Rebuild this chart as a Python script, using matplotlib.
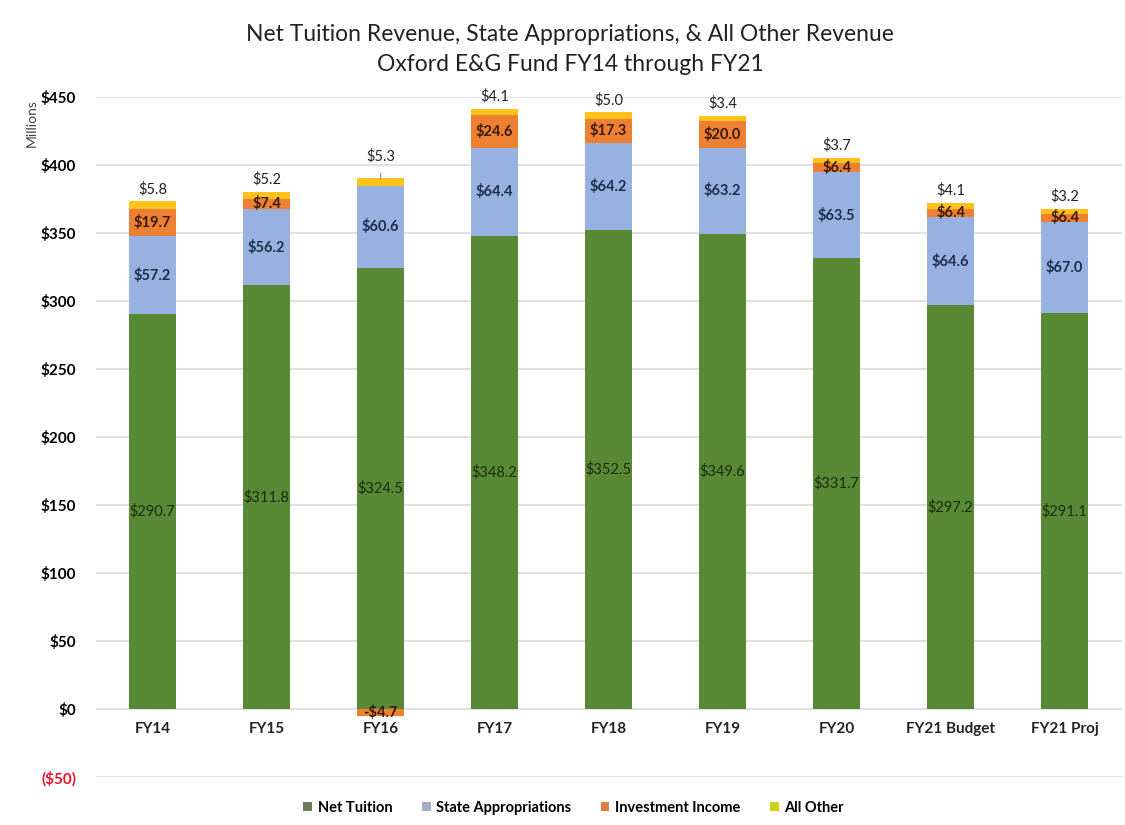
import numpy as np
import matplotlib.pyplot as plt
from matplotlib.patches import Patch
from matplotlib.ticker import FixedLocator

years = ["FY14", "FY15", "FY16", "FY17", "FY18", "FY19", "FY20", "FY21 Budget", "FY21 Proj"]
net_tuition = [290.7, 311.8, 324.5, 348.2, 352.5, 349.6, 331.7, 297.2, 291.1]
state_approp = [57.2, 56.2, 60.6, 64.4, 64.2, 63.2, 63.5, 64.6, 67.0]
investment = [19.7, 7.4, -4.7, 24.6, 17.3, 20.0, 6.4, 6.4, 6.4]
all_other = [5.8, 5.2, 5.3, 4.1, 5.0, 3.4, 3.7, 4.1, 3.2]

series = [
    ("Net Tuition", net_tuition, "#588a35", "#6b7a5a"),
    ("State Appropriations", state_approp, "#97b2e0", "#a3aec8"),
    ("Investment Income", investment, "#ee8034", "#e07b45"),
    ("All Other", all_other, "#ffc21a", "#c8d61a"),
]

plt.rcParams["font.family"] = ["Lato", "DejaVu Sans"]

fig = plt.figure(figsize=(11.25, 8.25), dpi=100)
ax = fig.add_axes([0.085, 0.058, 0.912, 0.824])

x = np.arange(len(years))
width = 0.41
pos_base = np.zeros(len(years))
neg_base = np.zeros(len(years))

for name, vals, color, _ in series:
    vals = np.array(vals)
    bottoms = np.where(vals >= 0, pos_base, neg_base)
    ax.bar(x, vals, width, bottom=bottoms, color=color, zorder=3)
    for i, v in enumerate(vals):
        txt = f"${v:.1f}" if v >= 0 else f"-${-v:.1f}"
        if name == "All Other":
            # a leader line where the label had to be pushed up
            lift = 16 if neg_base[i] < 0 else 9
            ax.annotate(txt, (x[i], bottoms[i] + v), xytext=(0, lift),
                        textcoords="offset points", ha="center", va="center",
                        fontsize=10.5, color="#222222",
                        arrowprops=dict(arrowstyle="-", color="#888888", lw=0.8,
                                        shrinkA=5, shrinkB=0) if lift > 9 else None)
        elif name == "Net Tuition":
            ax.text(x[i], bottoms[i] + v / 2, txt, ha="center", va="center",
                    fontsize=10.5, color="#1d2a12", zorder=4)
        else:
            ax.text(x[i], bottoms[i] + v / 2, txt, ha="center", va="center",
                    fontsize=10.5, fontweight="bold",
                    color="#1f2d4d" if name == "State Appropriations" else "#3a1a08",
                    zorder=4)
    pos_base = pos_base + np.where(vals >= 0, vals, 0)
    neg_base = neg_base + np.where(vals < 0, vals, 0)

ax.set_ylim(-50, 450)
ax.set_xlim(-0.5, len(years) - 0.5)
ticks = list(range(-50, 451, 50))
ax.yaxis.set_major_locator(FixedLocator(ticks))
ax.set_yticklabels(["($50)" if t < 0 else f"${t}" for t in ticks],
                   fontsize=11, fontweight="bold")
ax.get_yticklabels()[0].set_color("#e8102a")
ax.tick_params(axis="y", length=0, pad=14)
ax.tick_params(axis="x", length=0, labelbottom=False)
ax.grid(axis="y", color="#dcdcdc", linewidth=1.2, zorder=0)
for s in ax.spines.values():
    s.set_visible(False)

# category labels sit just under the zero line
for i, yr in enumerate(years):
    ax.annotate(yr, (x[i], 0), xytext=(0, -9), textcoords="offset points",
                ha="center", va="top", fontsize=11, fontweight="bold",
                color="#222222")

fig.text(0.028, 0.88, "Millions", rotation=90, ha="center", va="top",
         fontsize=10, color="#444444")
fig.text(0.507, 0.958, "Net Tuition Revenue, State Appropriations, & All Other Revenue",
         ha="center", va="center", fontsize=16.5, color="#222222")
fig.text(0.507, 0.922, "Oxford E&G Fund FY14 through FY21",
         ha="center", va="center", fontsize=16.5, color="#222222")

handles = [Patch(facecolor=c, label=n) for n, _, _, c in series]
leg = fig.legend(handles=handles, loc="center", bbox_to_anchor=(0.51, 0.021),
                 ncol=4, frameon=False, handlelength=0.6, handleheight=0.6,
                 handletextpad=0.4, columnspacing=2.0,
                 prop={"size": 10.5, "weight": "bold"})

fig.savefig("out.png", dpi=100)
